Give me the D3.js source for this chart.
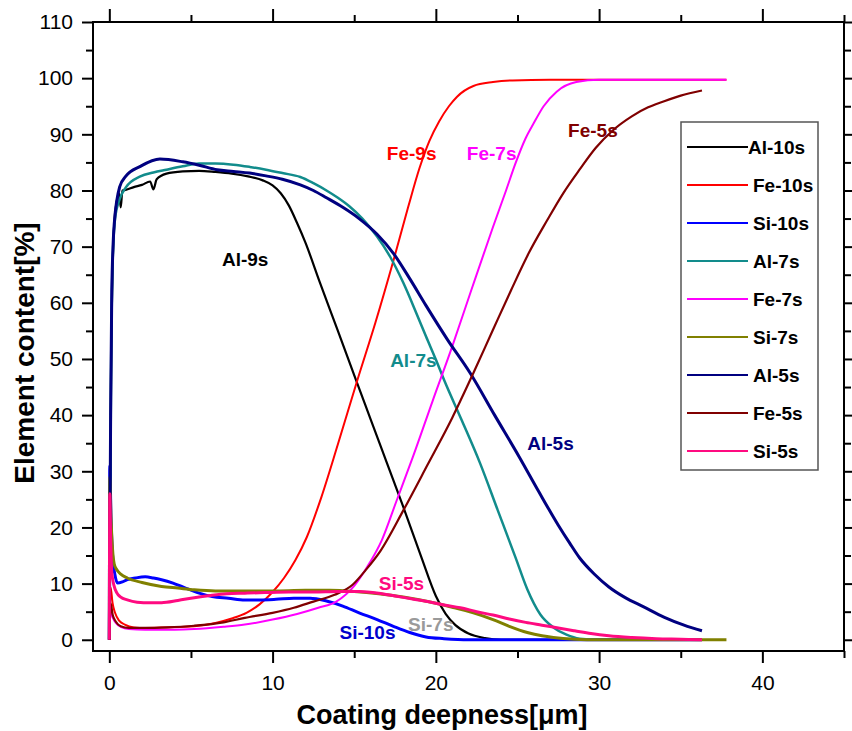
<!DOCTYPE html>
<html>
<head>
<meta charset="utf-8">
<script src="https://cdn.jsdelivr.net/npm/d3@7"></script>
<style>
  html, body { margin: 0; padding: 0; background: #fff; }
  svg { display: block; font-family: "Liberation Sans", Arial, sans-serif; }
</style>
</head>
<body>
<svg id="chart" width="852" height="731"></svg>
<script>
// ---------- data ----------
const seriesNames = ["Al-10s","Fe-10s","Si-10s","Al-7s","Fe-7s","Si-7s","Al-5s","Fe-5s","Si-5s"];
const seriesColors = ["#000000","#ff0000","#0000ff","#128c8c","#ff00ff","#808000","#000080","#800000","#ff0a80"];

const al10 = [[0,0],[0.05,20],[0.1,45],[0.2,66],[0.3,74],[0.45,78],[0.6,79.5],[0.7,77],[0.8,80],[1,80.1],[1.5,80.6],[2,81],[2.5,81.6],[2.7,80.2],[2.9,82],[3.5,83],[4.5,83.4],[5.5,83.5],[6.5,83.3],[7.5,83],[8.5,82.5],[9.4,81.8],[10,80.9],[10.5,79.5],[11,77.3],[11.5,74.2],[12,70.8],[12.9,63.6],[14,55],[15.1,46.3],[16,39.3],[17,31.5],[18,23.7],[19.1,14.8],[20,7.8],[20.6,4.6],[21.2,2.6],[22,1.1],[23,0.3],[24,0],[36.3,0]];
const fe10 = [[0,0],[0.08,9.3],[0.2,6.5],[0.35,4.8],[0.6,3.4],[0.95,2.7],[1.5,2.2],[2.2,2.1],[3.5,2.2],[5.2,2.4],[6.5,3],[7.5,3.8],[8.4,4.8],[9.2,6.3],[10,8.5],[10.7,11],[11.4,14.2],[12.1,18.3],[13,25.5],[14,34.8],[15.2,46.3],[16.3,56.5],[17.4,67.5],[18.3,77],[19,84],[19.6,88.8],[20.2,92.3],[20.8,95],[21.3,96.7],[22.3,98.6],[23.5,99.3],[24.7,99.6],[27,99.7],[37.8,99.7]];
const si10 = [[0,0],[0.03,31],[0.1,22],[0.2,15],[0.35,11.5],[0.5,10.1],[0.8,10.3],[1.1,10.7],[1.6,11],[2.2,11.2],[2.7,11],[3.2,10.7],[3.9,10.1],[4.6,9.3],[5.4,8.4],[6.3,7.7],[7.3,7.4],[8.3,7.1],[9.2,7.1],[10.2,7.2],[11.3,7.4],[12.3,7.4],[13.3,6.9],[14.3,6],[15.3,4.8],[16.4,3.6],[17.4,2.4],[18.4,1.3],[19.4,0.5],[20.5,0.2],[22,0],[36.3,0]];
const al7 = [[0,0],[0.05,20],[0.1,45],[0.2,67],[0.35,75],[0.64,78.5],[1,80.5],[1.9,82.5],[2.7,83.2],[3.5,83.7],[4.5,84.3],[5.5,84.8],[6.5,84.8],[7.6,84.6],[8.6,84.2],[9.6,83.7],[10.6,83.1],[11.7,82.4],[12.5,81.3],[13.3,80],[14,78.7],[14.7,77.2],[15.5,75],[16.4,71.8],[17.2,68.2],[18,63.6],[18.8,58.2],[19.4,54],[20,49.9],[20.5,46.3],[21.6,39],[22.7,31.5],[23.8,23],[24.9,14.5],[25.6,9],[26.4,4.5],[27.2,2.2],[28,0.9],[28.8,0.2],[30,0],[36.3,0]];
const fe7 = [[0,0],[0.08,5],[0.2,4],[0.4,3],[0.7,2.3],[1.2,1.9],[2.2,1.8],[4,1.8],[5.2,1.9],[7,2.3],[8.3,2.7],[10,3.6],[11.5,4.6],[12.8,5.7],[13.9,6.8],[15,9.6],[15.8,13],[16.7,17.8],[17.6,24.8],[18.6,32.6],[19.8,42.5],[21,52.2],[22.2,62.5],[23.5,73.5],[24.3,80],[24.9,85],[25.5,89.3],[26,92],[26.6,95],[27.4,97.6],[28.6,99.3],[30,99.7],[37.8,99.7]];
const si7 = [[0,0],[0.03,29],[0.1,22],[0.2,16],[0.3,13.5],[0.45,12.5],[0.7,11.7],[1.1,11],[2,10.2],[3.2,9.5],[4.2,9.2],[5.2,8.9],[6.5,8.7],[8.3,8.7],[10,8.7],[12,8.8],[13.5,8.8],[15,8.6],[16.5,8.2],[18,7.6],[19.5,6.8],[21,5.8],[22.3,4.8],[23.5,3.6],[24.5,2.4],[25.6,1.3],[26.5,0.7],[27.2,0.4],[28.5,0.1],[30,0],[37.8,0]];
const al5 = [[0,0],[0.04,20],[0.08,40],[0.15,62],[0.3,74],[0.64,80.7],[1,82.5],[1.9,84.3],[3.1,85.6],[4.5,85.1],[5.5,84.5],[6.6,83.7],[7.6,83.4],[8.6,83.1],[9.6,82.6],[10.6,82],[11.7,81],[12.5,80],[13.3,78.7],[14.3,77],[15.3,75],[16.4,72.2],[17.4,68.8],[18.4,64.3],[19.4,59.5],[20.7,53.5],[22.1,47.5],[23.6,40],[25.1,32.6],[26.3,26.4],[27.5,20.4],[28.2,17.2],[28.8,14.6],[29.7,11.7],[30.6,9.4],[31.6,7.5],[32.7,5.9],[34,4],[35.2,2.6],[36.3,1.6]];
const fe5 = [[0,0],[0.08,6.5],[0.2,4.5],[0.4,3.2],[0.7,2.4],[1.2,2.1],[2.2,2.1],[3.5,2.2],[5.2,2.5],[7,3.1],[8.3,3.9],[10,4.8],[11.3,5.7],[12.5,6.8],[13.8,8],[14.9,9.8],[15.7,12.4],[16.6,15.8],[18,23],[19.5,31.2],[21,39.5],[22.3,47.5],[23.5,55.2],[24.6,62.2],[25.7,68.9],[26.8,74.6],[27.8,79.5],[28.8,83.7],[29.8,87.6],[30.8,90.6],[32,93.2],[33,94.8],[33.9,95.8],[35,96.9],[36.3,97.8]];
const si5 = [[0,0],[0.03,26],[0.08,18],[0.15,12],[0.3,9.5],[0.45,8.4],[0.7,7.6],[1.1,7.1],[1.7,6.7],[2.5,6.6],[3.2,6.6],[4.2,7],[5.2,7.5],[6.2,7.9],[7.2,8.2],[8.3,8.3],[9.5,8.4],[11,8.5],[12.5,8.5],[14,8.6],[15.3,8.6],[16.5,8.3],[17.5,7.8],[18.5,7.3],[19.5,6.8],[20.5,6.2],[21.5,5.7],[22.5,5],[23.5,4.4],[24.5,3.7],[25.5,3.1],[26.5,2.6],[27.5,2.1],[28.5,1.6],[29.5,1.1],[30.6,0.7],[32,0.4],[33.5,0.2],[35,0.1],[36.3,0]];
const seriesData = [al10, fe10, si10, al7, fe7, si7, al5, fe5, si5];
const seriesWidths = [2.2, 2, 3, 2.5, 2, 3, 3, 2.2, 3];

const xTicks = [0, 10, 20, 30, 40];
const xMinor = [5, 15, 25, 35, 45];
const yTicks = [0, 10, 20, 30, 40, 50, 60, 70, 80, 90, 100, 110];
const yMinor = [5, 15, 25, 35, 45, 55, 65, 75, 85, 95, 105];

const annotations = [
  {text: "Al-9s", x: 6.9, y: 66.5, color: "#000000"},
  {text: "Fe-9s", x: 17.0, y: 85.5, color: "#ff0000"},
  {text: "Fe-7s", x: 21.9, y: 85.5, color: "#ff00ff"},
  {text: "Fe-5s", x: 28.1, y: 89.6, color: "#800000"},
  {text: "Al-7s", x: 17.2, y: 48.5, color: "#128c8c"},
  {text: "Al-5s", x: 25.6, y: 33.8, color: "#000080"},
  {text: "Si-5s", x: 16.5, y: 8.9, color: "#ff0a80"},
  {text: "Si-10s", x: 14.1, y: 0.2, color: "#0000cc"},
  {text: "Si-7s", x: 18.3, y: 1.6, color: "#9a9a9a"}
];

// ---------- layout ----------
const svg = d3.select("#chart");
const L = 93, R = 844, T = 22, B = 651;
const x = d3.scaleLinear().domain([-1, 45]).range([L, R]);
const y = d3.scaleLinear().domain([-2, 110]).range([B, T]);

const axisW = 2;
const majorLen = 12, minorLen = 7;
const tickFont = "21px";
function styleAxis(g) {
  g.selectAll("path.domain").remove();
  g.selectAll(".tick line").attr("stroke", "#000").attr("stroke-width", axisW);
}

// bottom
const gB = svg.append("g").attr("transform", `translate(0,${B})`)
  .call(d3.axisBottom(x).tickValues(xTicks).tickSize(majorLen).tickPadding(12).tickFormat(d3.format("d")));
styleAxis(gB);
gB.selectAll("text").attr("font-size", tickFont).attr("fill", "#000").attr("font-family", "Liberation Sans, Arial, sans-serif");
svg.append("g").attr("transform", `translate(0,${B})`)
  .call(d3.axisBottom(x).tickValues(xMinor).tickSize(minorLen).tickFormat(""))
  .call(styleAxis);
// top
svg.append("g").attr("transform", `translate(0,${T})`)
  .call(d3.axisTop(x).tickValues(xTicks).tickSize(majorLen + 1).tickFormat(""))
  .call(styleAxis);
svg.append("g").attr("transform", `translate(0,${T})`)
  .call(d3.axisTop(x).tickValues(xMinor).tickSize(minorLen).tickFormat(""))
  .call(styleAxis);
// left
const gL = svg.append("g").attr("transform", `translate(${L},0)`)
  .call(d3.axisLeft(y).tickValues(yTicks).tickSize(majorLen - 1).tickPadding(9).tickFormat(d3.format("d")));
styleAxis(gL);
gL.selectAll("text").attr("font-size", tickFont).attr("fill", "#000").attr("font-family", "Liberation Sans, Arial, sans-serif");
svg.append("g").attr("transform", `translate(${L},0)`)
  .call(d3.axisLeft(y).tickValues(yMinor).tickSize(minorLen).tickFormat(""))
  .call(styleAxis);
// right
svg.append("g").attr("transform", `translate(${R},0)`)
  .call(d3.axisRight(y).tickValues(yTicks).tickSize(8).tickFormat(""))
  .call(styleAxis);
svg.append("g").attr("transform", `translate(${R},0)`)
  .call(d3.axisRight(y).tickValues(yMinor).tickSize(7).tickFormat(""))
  .call(styleAxis);

// series
const line = d3.line().x(d => x(d[0])).y(d => y(d[1])).curve(d3.curveMonotoneX);
const gS = svg.append("g");
seriesData.forEach((data, i) => {
  gS.append("path").datum(data)
    .attr("d", line)
    .attr("fill", "none")
    .attr("stroke", seriesColors[i])
    .attr("stroke-width", seriesWidths[i])
    .attr("stroke-linejoin", "round");
});

// frame
svg.append("rect").attr("x", L).attr("y", T).attr("width", R - L).attr("height", B - T)
  .attr("fill", "none").attr("stroke", "#000").attr("stroke-width", axisW);

// annotations
svg.append("g").selectAll("text").data(annotations).join("text")
  .attr("x", d => x(d.x)).attr("y", d => y(d.y))
  .attr("fill", d => d.color)
  .attr("font-size", "19px").attr("font-weight", "bold")
  .text(d => d.text);

// legend
const leg = svg.append("g");
leg.append("rect").attr("x", 681).attr("y", 122).attr("width", 137).attr("height", 348)
  .attr("fill", "#fff").attr("stroke", "#555").attr("stroke-width", 1.5);
seriesNames.forEach((name, i) => {
  const yy = 147 + i * 38;
  leg.append("line").attr("x1", 687).attr("x2", 748).attr("y1", yy).attr("y2", yy)
    .attr("stroke", seriesColors[i]).attr("stroke-width", 2);
  leg.append("text").attr("x", i === 0 ? 748 : 753).attr("y", yy + 7)
    .attr("font-size", "19px").attr("font-weight", "bold").attr("fill", "#000")
    .text(name);
});

// axis titles
svg.append("text").attr("x", 442).attr("y", 724)
  .attr("text-anchor", "middle").attr("font-size", "27px").attr("font-weight", "bold")
  .text("Coating deepness[μm]");
svg.append("text").attr("transform", "translate(34,353) rotate(-90)")
  .attr("text-anchor", "middle").attr("font-size", "28px").attr("font-weight", "bold")
  .text("Element content[%]");
</script>
</body>
</html>
